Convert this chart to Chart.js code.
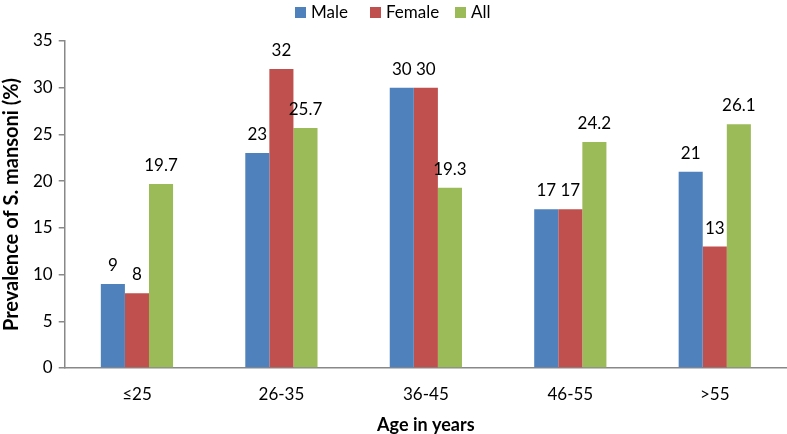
<!DOCTYPE html>
<html>
<head>
<meta charset="utf-8">
<script src="https://cdn.jsdelivr.net/npm/chart.js@4/dist/chart.umd.min.js"></script>
<style>
html,body{margin:0;padding:0;background:#fff;}
#wrap{width:787px;height:434px;position:relative;}
#legend{position:absolute;left:0;top:0;width:787px;height:26px;font-family:Lato,'Open Sans',sans-serif;font-size:17px;color:#000;}
#legend .it{position:absolute;top:2px;line-height:20px;white-space:nowrap;}
#legend .bx{display:inline-block;width:11px;height:11px;margin-right:5px;vertical-align:0px;}
</style>
</head>
<body>
<div id="wrap"><canvas id="c" width="787" height="434"></canvas><div id="legend"></div></div>
<script>
const categories = ["≤25", "26-35", "36-45", "46-55", ">55"];
const male = [9, 23, 30, 17, 21];
const female = [8, 32, 30, 17, 13];
const all = [19.7, 25.7, 19.3, 24.2, 26.1];
const yTicks = [0, 5, 10, 15, 20, 25, 30, 35];
const seriesNames = ["Male", "Female", "All"];
const seriesColors = ["#4F81BD", "#C0504D", "#9BBB59"];

const FONT = "Lato, 'Open Sans', sans-serif";

const labelPlugin = {
  id: 'barLabels',
  afterDatasetsDraw(chart) {
    const ctx = chart.ctx;
    ctx.save();
    ctx.font = "17px " + FONT;
    ctx.fillStyle = "#000";
    ctx.textAlign = "center";
    ctx.textBaseline = "bottom";
    chart.data.datasets.forEach((ds, i) => {
      const meta = chart.getDatasetMeta(i);
      meta.data.forEach((bar, j) => {
        ctx.fillText(String(ds.data[j]), bar.x, bar.y - 10);
      });
    });
    ctx.restore();
  }
};

const chart = new Chart(document.getElementById('c'), {
  type: 'bar',
  data: {
    labels: categories,
    datasets: [
      { label: seriesNames[0], data: male, backgroundColor: seriesColors[0] },
      { label: seriesNames[1], data: female, backgroundColor: seriesColors[1] },
      { label: seriesNames[2], data: all, backgroundColor: seriesColors[2] }
    ]
  },
  options: {
    responsive: false,
    animation: false,
    layout: { padding: { top: 41, right: 0, left: 0, bottom: 0 } },
    datasets: { bar: { categoryPercentage: 0.5, barPercentage: 1.0 } },
    plugins: {
      legend: { display: false },
      tooltip: { enabled: false }
    },
    scales: {
      x: {
        grid: { display: false, drawTicks: false },
        border: { color: '#888', width: 1.5 },
        ticks: { font: { family: FONT, size: 17 }, color: '#000', padding: 16 },
        title: { display: true, text: 'Age in years', font: { family: FONT, size: 18, weight: 'bold' }, color: '#000', padding: { top: -6, bottom: -2 } }
      },
      y: {
        min: 0, max: 35,
        afterBuildTicks(axis) { axis.ticks = yTicks.map(v => ({ value: v })); },
        grid: { display: true, drawOnChartArea: false, drawTicks: true, tickLength: 6, color: '#888', lineWidth: 1.5 },
        border: { color: '#888', width: 1.5 },
        ticks: { font: { family: FONT, size: 17 }, color: '#000', padding: 6 },
        title: { display: true, text: 'Prevalence of S. mansoni (%)', font: { family: FONT, size: 20, weight: 'bold' }, color: '#000', padding: { top: 0, bottom: 3 } }
      }
    }
  },
  plugins: [labelPlugin]
});

// legend built from the chart's datasets
const legendPos = [[295, 311], [370, 383], [455, 470]];
const lg = document.getElementById('legend');
chart.data.datasets.forEach((ds, i) => {
  const it = document.createElement('div');
  it.className = 'it';
  it.style.left = legendPos[i][0] + 'px';
  const bx = document.createElement('span');
  bx.className = 'bx';
  bx.style.background = ds.backgroundColor;
  it.appendChild(bx);
  it.appendChild(document.createTextNode(ds.label));
  lg.appendChild(it);
});
</script>
</body>
</html>
